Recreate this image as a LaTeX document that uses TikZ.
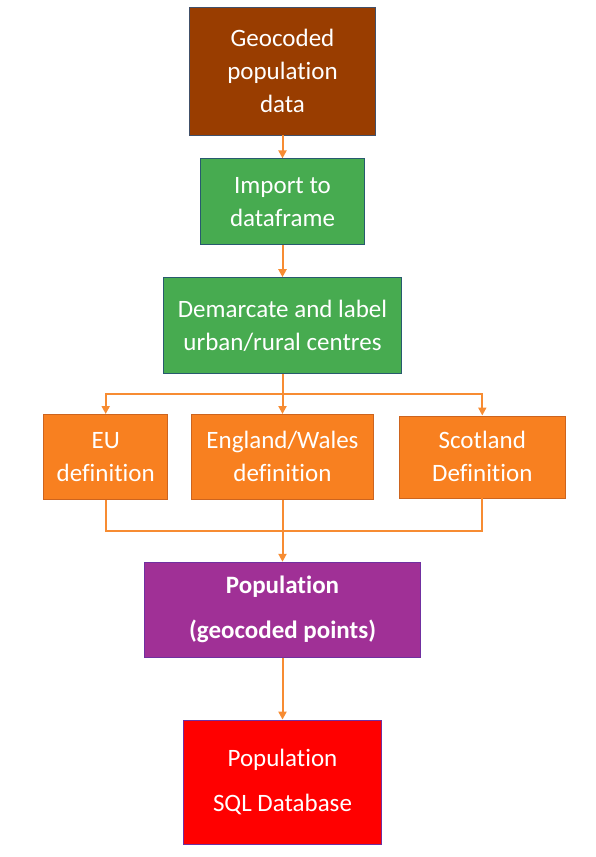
\documentclass[tikz,border=0pt]{standalone}
\usepackage{fontspec}
\setmainfont{Carlito}[Ligatures=NoCommon]
\usetikzlibrary{positioning,calc,arrows.meta}

\definecolor{geobrown}{RGB}{153,61,0}
\definecolor{geoedge}{RGB}{65,80,105}
\definecolor{stepgreen}{RGB}{71,171,80}
\definecolor{greenedge}{RGB}{40,90,110}
\definecolor{deforange}{RGB}{248,128,32}
\definecolor{orangeedge}{RGB}{205,100,30}
\definecolor{poppurple}{RGB}{160,48,150}
\definecolor{purpleedge}{RGB}{112,48,160}
\definecolor{sqlred}{RGB}{255,0,0}
\definecolor{linkorange}{RGB}{247,140,50}

\tikzset{
  flowbox/.style={rectangle, draw, line width=0.8pt, text=white, align=center,
    inner sep=2pt, font=\fontsize{25}{33}\selectfont},
  widebox/.style={flowbox, font=\fontsize{25}{45}\selectfont},
  link/.style={draw=linkorange, line width=2pt},
  arr/.style={link, -{Triangle[length=8pt,width=8pt]}}
}

\begin{document}
\begin{tikzpicture}
		\useasboundingbox (0,0) rectangle (596pt,-857pt);
		%
		\node [flowbox, fill=geobrown, draw=geoedge, minimum width=186pt, minimum height=128pt]
		  at (282.5pt,-71pt) (geo) {Geocoded\\population\\data};
		\node [flowbox, fill=stepgreen, draw=greenedge, minimum width=164pt, minimum height=86pt,
		  below=23pt of geo] (imp) {Import to\\dataframe};
		\node [flowbox, fill=stepgreen, draw=greenedge, minimum width=238pt, minimum height=96pt,
		  below=32pt of imp] (dem) {Demarcate and label\\urban/rural centres};
		\node [flowbox, fill=deforange, draw=orangeedge, minimum width=182pt, minimum height=85pt,
		  below=40pt of dem] (eng) {England/Wales\\definition};
		\node [flowbox, fill=deforange, draw=orangeedge, minimum width=124pt, minimum height=85pt,
		  left=23pt of eng] (eu) {EU\\definition};
		\node [flowbox, fill=deforange, draw=orangeedge, minimum width=166pt, minimum height=82pt,
		  right=25pt of eng] (scot) {Scotland\\Definition};
		\node [widebox, font=\bfseries\fontsize{25}{45}\selectfont, fill=poppurple, draw=purpleedge,
		  minimum width=276pt, minimum height=95pt, below=62pt of eng] (pop) {Population\\(geocoded points)};
		\node [widebox, fill=sqlred, draw=purpleedge, minimum width=198pt, minimum height=124pt,
		  below=62pt of pop] (sql) {Population\\SQL Database};
		%
		\coordinate (fork) at ($(dem.south)!0.5!(eng.north)$);
		\coordinate (merge) at ($(eng.south)!0.5!(pop.north)$);
		%
		\draw [arr] (geo) -- (imp);
		\draw [arr] (imp) -- (dem);
		\draw [arr] (dem) -- (eng);
		\draw [arr] (fork) -| (eu.north);
		\draw [arr] (fork) -| (scot.north);
		\draw [link] (eu.south) |- (merge) -| (scot.south);
		\draw [arr] (eng) -- (pop);
		\draw [arr] (pop) -- (sql);
	  \end{tikzpicture}
\end{document}
